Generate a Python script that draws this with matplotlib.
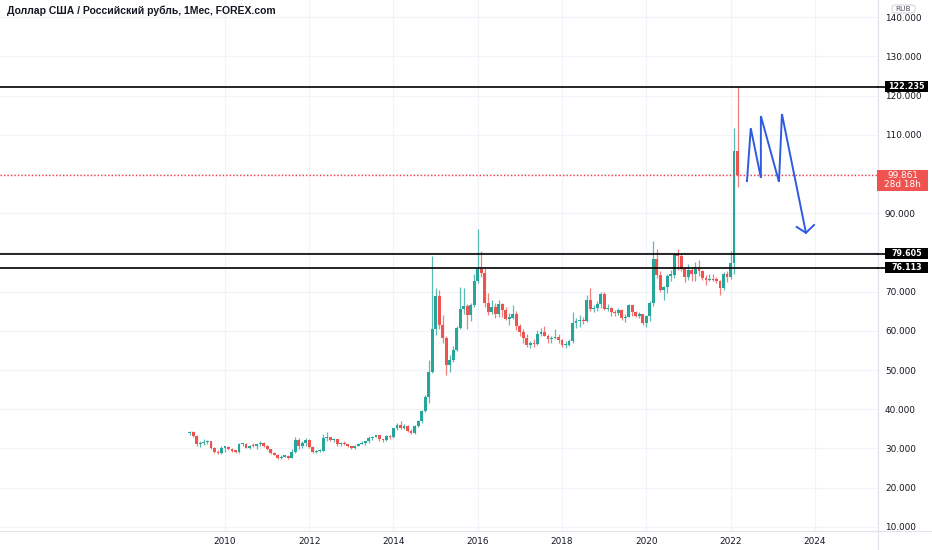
import matplotlib
matplotlib.use("Agg")
import matplotlib.pyplot as plt
from matplotlib.lines import Line2D
from matplotlib.patches import Rectangle, FancyBboxPatch
import numpy as np

# monthly USD/RUB candles, March 2009 .. March 2022
start_year, start_month = 2009, 3
first_open = 33.9

closes = [
    34.1, 33.1, 31.0, 31.3, 31.6, 31.9, 30.1, 29.0, 28.9, 30.2,              # 2009
    30.3, 29.8, 29.4, 29.2, 31.0, 31.2, 30.2, 30.7, 30.5, 31.0, 31.3, 30.5,  # 2010
    29.8, 28.8, 28.4, 27.5, 27.9, 28.0, 27.6, 29.0, 32.1, 30.5, 31.3, 32.2,  # 2011
    30.4, 29.0, 29.4, 29.4, 32.6, 32.8, 32.2, 32.3, 31.2, 31.5, 31.0, 30.5,  # 2012
    30.0, 30.7, 31.1, 31.3, 31.9, 32.7, 32.9, 33.3, 32.3, 32.1, 33.1, 32.8,  # 2013
    35.2, 36.0, 35.1, 35.7, 34.5, 34.0, 35.7, 37.0, 39.6, 43.0, 49.5, 60.5,  # 2014
    69.0, 61.5, 58.2, 51.4, 52.5, 55.2, 60.8, 65.5, 66.3, 64.0, 66.6, 72.8,  # 2015
    75.8, 74.8, 67.2, 64.8, 66.0, 64.2, 66.8, 65.2, 63.1, 63.3, 64.3, 61.2,  # 2016
    59.8, 58.2, 56.3, 57.0, 56.6, 59.1, 59.6, 58.6, 57.8, 58.1, 58.4, 57.7,  # 2017
    56.3, 56.4, 57.3, 62.1, 62.4, 62.8, 62.4, 67.9, 65.6, 65.7, 66.9, 69.4,  # 2018
    65.6, 65.8, 64.9, 64.5, 65.4, 63.2, 63.6, 66.6, 64.8, 63.9, 64.2, 61.9,  # 2019
    63.8, 67.2, 78.3, 74.2, 70.3, 71.2, 74.1, 74.3, 79.5, 79.1, 75.8, 73.8,  # 2020
    75.6, 74.6, 75.8, 75.2, 73.4, 73.0, 73.1, 73.0, 72.8, 70.9, 74.5, 73.7,  # 2021
    77.3, 105.8, 99.861,                                                      # 2022
]
highs = [
    34.4, 34.5, 33.3, 31.9, 32.4, 32.2, 32.0, 30.3, 29.6, 30.6,
    30.6, 30.6, 30.0, 29.6, 31.5, 31.4, 31.3, 30.9, 31.3, 31.1, 31.8, 31.6,
    30.8, 29.9, 29.0, 28.5, 28.4, 28.4, 28.2, 29.8, 33.0, 32.7, 31.8, 32.6,
    32.3, 30.5, 29.6, 29.9, 33.6, 34.1, 33.0, 32.6, 32.5, 31.7, 31.8, 31.2,
    30.6, 30.9, 31.3, 31.9, 32.0, 33.2, 33.2, 33.5, 33.5, 32.4, 33.3, 33.3,
    35.3, 36.5, 37.0, 36.3, 35.9, 34.9, 36.0, 37.3, 39.8, 43.5, 52.5, 79.2,
    71.0, 70.4, 64.0, 58.8, 53.8, 56.2, 61.2, 71.2, 70.8, 66.8, 67.2, 74.5,
    86.0, 80.4, 76.0, 69.7, 67.8, 67.2, 67.9, 67.0, 66.2, 64.5, 66.7, 65.0,
    61.8, 60.5, 59.2, 57.4, 58.0, 60.1, 60.8, 61.2, 59.3, 58.8, 60.4, 59.2,
    57.8, 57.4, 58.0, 64.7, 63.2, 64.0, 63.6, 69.2, 70.9, 66.6, 67.6, 70.0,
    69.8, 66.8, 66.0, 65.2, 65.8, 65.6, 64.2, 66.8, 66.7, 65.1, 64.7, 64.3,
    64.1, 67.6, 82.9, 80.9, 75.3, 71.4, 74.4, 75.4, 79.9, 81.0, 79.6, 76.2,
    77.1, 76.4, 77.5, 78.0, 75.4, 74.2, 74.4, 74.5, 73.7, 72.9, 75.0, 75.2,
    80.4, 111.7, 122.235,
]
lows = [
    33.3, 32.8, 30.7, 30.4, 30.9, 31.0, 29.9, 28.8, 28.5, 28.7,
    29.2, 29.6, 29.1, 28.9, 28.9, 30.6, 30.1, 29.8, 30.3, 29.9, 30.6, 30.4,
    29.5, 28.6, 28.2, 27.3, 27.3, 27.8, 27.3, 27.5, 28.8, 29.9, 30.2, 30.6,
    30.2, 28.9, 28.8, 29.0, 29.3, 32.0, 32.0, 31.7, 30.5, 30.6, 30.9, 30.4,
    29.9, 29.9, 30.5, 31.0, 30.9, 31.5, 32.2, 32.8, 31.9, 31.7, 32.0, 32.5,
    32.6, 34.8, 35.0, 35.0, 34.2, 33.6, 33.8, 35.5, 36.5, 39.4, 41.6, 49.3,
    59.0, 60.5, 57.0, 48.8, 49.4, 52.0, 54.8, 60.5, 64.2, 60.5, 62.6, 66.2,
    72.2, 73.8, 66.0, 64.0, 64.2, 63.3, 63.4, 63.6, 62.8, 61.5, 63.0, 60.2,
    58.8, 57.0, 55.8, 55.6, 55.8, 56.4, 58.8, 58.6, 56.9, 56.8, 57.9, 56.9,
    55.8, 55.6, 56.2, 57.0, 60.8, 61.0, 61.8, 62.3, 65.1, 64.9, 65.0, 65.9,
    65.4, 65.1, 63.8, 63.8, 64.1, 62.8, 62.3, 63.4, 63.7, 63.4, 63.3, 61.5,
    60.9, 62.6, 66.4, 73.6, 69.8, 67.8, 69.6, 72.6, 73.6, 75.5, 75.3, 72.5,
    72.9, 72.8, 72.6, 74.0, 73.0, 71.6, 72.6, 72.7, 72.2, 69.2, 70.5, 72.5,
    73.3, 74.6, 96.7,
]

# horizontal levels drawn by the author
levels = [122.235, 79.605, 76.113]
last_price = 99.861
countdown = "28d 18h"

# hand-drawn blue forecast path (decimal year, price)
path_x = [2022.39, 2022.48, 2022.72, 2022.72, 2023.15, 2023.22, 2023.79]
path_y = [98.2, 111.7, 99.0, 114.8, 98.0, 115.3, 85.0]
arrow_x = [2023.57, 2023.79, 2023.98]
arrow_y = [86.5, 85.0, 87.0]

year_ticks = [2010, 2012, 2014, 2016, 2018, 2020, 2022, 2024]
price_ticks = [10, 20, 30, 40, 50, 60, 70, 80, 90, 100, 110, 120, 130, 140]
hidden_ticks = [80, 100]  # covered by price labels on the scale

title = "Доллар США / Российский рубль, 1Мес, FOREX.com"

UP = "#26a69a"
DOWN = "#ef5350"
TXT = "#131722"
SEP = "#e0e3eb"
GRID = "#f0f3fa"

opens = np.array([first_open] + closes[:-1])
closes = np.array(closes)
highs = np.array(highs)
lows = np.array(lows)
n = len(closes)
months = np.arange(n) + (start_month - 1)
xs = start_year + months / 12.0

W, H = 932.0, 550.0
fig = plt.figure(figsize=(W / 100, H / 100), dpi=100)
ax = fig.add_axes([0, 19 / H, 878 / W, 531 / H])
ax.set_xlim(2004.66, 2025.50)
ax.set_ylim(8.93, 144.4)

for v in price_ticks:
    ax.axhline(v, color=GRID, lw=0.8, zorder=0)
for yv in year_ticks:
    ax.axvline(yv, color=GRID, lw=0.8, zorder=0)

up = closes >= opens
cols = np.where(up, UP, DOWN)
body_lo = np.minimum(opens, closes)
body_h = np.maximum(np.abs(closes - opens), 0.3)
ax.vlines(xs, lows, highs, colors=cols, lw=0.9, alpha=0.75, zorder=2)
ax.bar(xs, body_h, bottom=body_lo, width=0.068, color=cols, lw=0, zorder=3)

for lv in levels:
    ax.axhline(lv, color="black", lw=1.2, zorder=4)
ax.axhline(last_price, color="#f23645", lw=1.0, ls=(0, (1, 1.5)), zorder=4)

ax.plot(path_x, path_y, color="#2f5be0", lw=1.4, zorder=5, solid_joinstyle="miter")
ax.plot(arrow_x, arrow_y, color="#2f5be0", lw=1.4, zorder=5)

ax.text(0.008, 0.979, title, transform=ax.transAxes, fontsize=7.5,
        family="Liberation Sans", fontweight="bold", color=TXT,
        va="center", ha="left")

for s in ["top", "left"]:
    ax.spines[s].set_visible(False)
ax.spines["right"].set_color(SEP)
ax.spines["bottom"].set_color(SEP)
ax.spines["right"].set_linewidth(0.8)
ax.spines["bottom"].set_linewidth(0.8)

ax.yaxis.tick_right()
ax.set_yticks(price_ticks)
ax.set_yticklabels(["" if v in hidden_ticks else f"{v:.3f}" for v in price_ticks])
ax.set_xticks(year_ticks)
ax.set_xticklabels([str(y) for y in year_ticks])
ax.tick_params(axis="y", length=0, pad=5, labelsize=6.4, labelcolor=TXT)
ax.tick_params(axis="x", length=0, pad=4, labelsize=6.4, labelcolor=TXT)

# separators extending beyond the plot
fig.add_artist(Line2D([878 / W, 878 / W], [0, 1], color=SEP, lw=0.8))
fig.add_artist(Line2D([0, 1], [19 / H, 19 / H], color=SEP, lw=0.8))


def ypix(v):
    return ax.transData.transform((0, v))[1]


# price labels on the right scale
for lv in levels:
    yp = ypix(lv)
    fig.add_artist(Line2D([878 / W, 887 / W], [yp / H, yp / H], color="black", lw=1.2))
    fig.add_artist(Rectangle((885 / W, (yp - 5.5) / H), 43 / W, 11 / H,
                             fc="black", ec="none", zorder=5))
    fig.text(906.5 / W, yp / H, f"{lv:.3f}", color="white", fontsize=5.8,
             fontweight="bold", ha="center", va="center", zorder=6)

yp = ypix(last_price)
fig.add_artist(Rectangle((877 / W, (yp - 16) / H), 51 / W, 21 / H,
                         fc=DOWN, ec="none", zorder=5))
fig.text(902.5 / W, (yp - 0.5) / H, f"{last_price:.3f}", color="white",
         fontsize=6.4, ha="center", va="center", zorder=6)
fig.text(902.5 / W, (yp - 10) / H, countdown, color="white",
         fontsize=6.4, ha="center", va="center", zorder=6)

fig.add_artist(FancyBboxPatch((892 / W, 1 - 13 / H), 23 / W, 8 / H,
                              boxstyle="round,pad=0,rounding_size=0.004",
                              fc="white", ec="#c8cad0", lw=0.6, zorder=5))
fig.text(903.5 / W, 1 - 9 / H, "RUB", color="#50535e", fontsize=5.3,
         ha="center", va="center", zorder=6)

fig.savefig("out.png", dpi=100, facecolor="white")
